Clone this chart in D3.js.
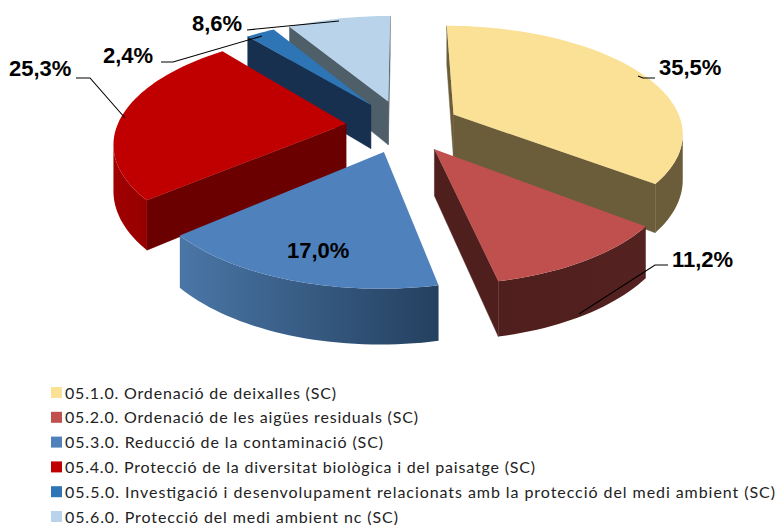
<!DOCTYPE html>
<html>
<head>
<meta charset="utf-8">
<script src="https://cdn.jsdelivr.net/npm/d3@7"></script>
<style>
  html, body { margin: 0; padding: 0; background: #ffffff; }
  svg { display: block; }
  .slice { filter: blur(0.5px); }
</style>
</head>
<body>
<div id="chart"></div>
<script>
// values
const categories = [
  "05.1.0. Ordenació de deixalles (SC)",
  "05.2.0. Ordenació de les aigües residuals (SC)",
  "05.3.0. Reducció de la contaminació (SC)",
  "05.4.0. Protecció de la diversitat biològica i del paisatge (SC)",
  "05.5.0. Investigació i desenvolupament relacionats amb la protecció del medi ambient (SC)",
  "05.6.0. Protecció del medi ambient nc (SC)"
];
const values = [35.5, 11.2, 17.0, 25.3, 2.4, 8.6];

// colours per slice: top, cut faces, outer wall (left and right end)
const topColors  = ["#fbe196", "#c0504d", "#4f81bd", "#c00000", "#2e75b6", "#b9d3ea"];
const faceColors = ["#6b5d3a", "#4f1f1d", "#24405f", "#6b0000", "#17304f", "#4f5f69"];
const wallLeft   = ["#6b5d3a", "#4f1f1d", "#4a76a6", "#a00000", "#17304f", "#4f5f69"];
const wallRight  = ["#6b5d3a", "#542220", "#24405f", "#960000", "#17304f", "#4f5f69"];

// label boxes and leader lines, screen px
const labelPos = [[659, 75], [672, 267], [287, 258], [9, 76], [103, 63], [192, 31]];
const leaders = [
  [[638, 76], [643, 78], [655, 78]],
  [[579, 314], [655, 265], [668, 265]],
  null,
  [[76, 78], [90, 78], [125, 118]],
  [[161, 62], [173, 62], [262, 36]],
  [[247, 30], [339, 21]]
];
const legendRight = [336, 418, 383, 535, 775, 398];

const width = 779, height = 526;

const svg = d3.select("#chart").append("svg")
  .attr("width", width)
  .attr("height", height);
const defs = svg.append("defs");

// perspective of the tilted pie. x,y in the pie plane (radius 1), y towards viewer, z down
const view = {cx: 403, cy: 126, rx: 229, ry: 106, depth: 45, persp: 0.157, explode: 0.25};
function project(x, y, z) {
  const s = 1 / (1 - view.persp * y);
  return [view.cx + x * view.rx * s, view.cy + (y * view.ry + z * view.depth) * s];
}

const arcs = d3.pie().sort(null)(values);
const line = d3.line();

// small angle steps along one slice rim
function rim(a) {
  const n = Math.ceil((a.endAngle - a.startAngle) / 0.03);
  return d3.range(n + 1).map(i => a.startAngle + (a.endAngle - a.startAngle) * i / n);
}

// back to front
const drawOrder = [5, 4, 3, 0, 1, 2];

drawOrder.forEach(i => {
  const a = arcs[i];
  const mid = (a.startAngle + a.endAngle) / 2;
  const ox = Math.sin(mid) * view.explode;
  const oy = -Math.cos(mid) * view.explode;
  const pt = (t, z) => project(ox + Math.sin(t), oy - Math.cos(t), z);
  const apex = z => project(ox, oy, z);
  const g = svg.append("g").attr("class", "slice");
  const angles = rim(a);

  // cut faces, only the ones that turn to the viewer
  const faces = [
    [apex(0), pt(a.startAngle, 0), pt(a.startAngle, 1), apex(1)],
    [pt(a.endAngle, 0), apex(0), apex(1), pt(a.endAngle, 1)]
  ];
  faces.forEach(f => {
    if (d3.polygonArea(f) > 0) {
      g.append("path").attr("d", line(f) + "Z")
        .attr("fill", faceColors[i]).attr("stroke", faceColors[i]).attr("stroke-width", 0.5);
    }
  });

  // outer wall, the part of the rim that faces the viewer
  const visible = d3.pairs(angles).filter(([t0, t1]) =>
    d3.polygonArea([pt(t0, 0), pt(t1, 0), pt(t1, 1), pt(t0, 1)]) > 0);
  if (visible.length) {
    const ts = [visible[0][0]].concat(visible.map(d => d[1]));
    const outline = ts.map(t => pt(t, 0)).concat(ts.slice().reverse().map(t => pt(t, 1)));
    const xs = d3.extent(outline, d => d[0]);
    const grad = defs.append("linearGradient")
      .attr("id", "wall" + i)
      .attr("gradientUnits", "userSpaceOnUse")
      .attr("x1", xs[0]).attr("x2", xs[1])
      .attr("y1", 0).attr("y2", 0);
    grad.append("stop").attr("offset", 0).attr("stop-color", wallLeft[i]);
    grad.append("stop").attr("offset", 1).attr("stop-color", wallRight[i]);
    g.append("path").attr("d", line(outline) + "Z").attr("fill", "url(#wall" + i + ")");
  }

  // top
  const top = [apex(0)].concat(angles.map(t => pt(t, 0)));
  g.append("path").attr("d", line(top) + "Z").attr("fill", topColors[i]);
});

// leader lines
svg.selectAll("path.leader")
  .data(leaders.filter(d => d))
  .enter().append("path")
  .attr("class", "leader")
  .attr("d", d => line(d))
  .attr("fill", "none")
  .attr("stroke", "#000000")
  .attr("stroke-width", 1.1);

// value labels
svg.selectAll("text.value")
  .data(values)
  .enter().append("text")
  .attr("class", "value")
  .attr("x", (d, i) => labelPos[i][0])
  .attr("y", (d, i) => labelPos[i][1])
  .text(d => d.toFixed(1).replace(".", ",") + "%")
  .style("font-family", "'Liberation Sans', Arial, sans-serif")
  .style("font-weight", "bold")
  .style("font-size", "22px")
  .style("fill", "#000000");

// legend
const legendY = d3.scalePoint().domain(d3.range(categories.length)).range([393, 517]);
const legend = svg.selectAll("g.legend")
  .data(categories)
  .enter().append("g")
  .attr("class", "legend")
  .attr("transform", (d, i) => "translate(0," + legendY(i) + ")");

legend.append("rect")
  .attr("x", 51)
  .attr("y", -6)
  .attr("width", 11)
  .attr("height", 11)
  .attr("fill", (d, i) => topColors[i]);

legend.append("text")
  .attr("x", 65)
  .attr("dy", "0.35em")
  .attr("textLength", (d, i) => legendRight[i] - 65)
  .attr("lengthAdjust", "spacing")
  .text(d => d)
  .style("font-family", "Lato, 'Open Sans', sans-serif")
  .style("font-size", "16px")
  .style("fill", "#222222");
</script>
</body>
</html>
